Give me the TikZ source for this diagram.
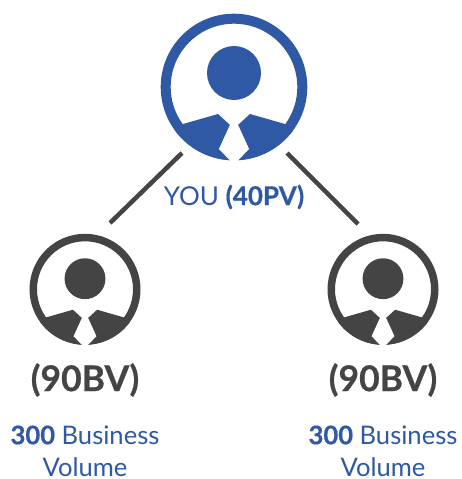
\documentclass[tikz,border=0pt]{standalone}
\usepackage{fontspec}
\setmainfont{Lato}[BoldFeatures={FakeBold=0.6}]
\definecolor{brandblue}{HTML}{2F58A5}
\definecolor{darkgrey}{HTML}{444444}
\tikzset{
  ring/.style={circle,draw=#1,fill=white,inner sep=0pt,outer sep=0pt},
  youlabel/.style={text=brandblue,font=\fontsize{26}{30}\selectfont,inner sep=0pt},
  bvlabel/.style={text=darkgrey,font=\fontsize{35.5}{42}\selectfont\bfseries,inner sep=0pt},
  blabel/.style={text=brandblue,font=\fontsize{25.6}{32}\selectfont,align=center,inner sep=0pt},
  link/.style={draw=darkgrey,line width=4.5pt},
  person/.pic={
    \fill[pic actions] (0,-14) circle (27);
    \fill[pic actions] (-52.0,37.3) -- (-16,27) -- (-4,38) -- (-15,62) -- (-4,73.2)
       arc[start angle=93.1,end angle=144.4,radius=73.3] -- cycle;
    \fill[pic actions] (52.0,37.3) -- (16,27) -- (4,38) -- (15,62) -- (4,73.2)
       arc[start angle=86.9,end angle=35.6,radius=73.3] -- cycle;
    \fill[white] (-4,38) -- (-15,62) -- (-3,74.5) -- (3,74.5) -- (15,62) -- (4,38) -- cycle;
  }
}
\begin{document}
\begin{tikzpicture}[x=1pt,y=-1pt]
\useasboundingbox (0,0) rectangle (461,479);
\node[ring=brandblue,line width=10pt,minimum size=136.6pt] (you) at (234,87) {};
\pic[fill=brandblue] at (you.center) {person};
\node[ring=darkgrey,line width=7.5pt,minimum size=103.5pt] (left) at (85,289.3) {};
\pic[fill=darkgrey,scale=.757] at (left.center) {person};
\node[ring=darkgrey,line width=7.5pt,minimum size=103.5pt] (right) at (383,289.3) {};
\pic[fill=darkgrey,scale=.757] at (right.center) {person};
\coordinate (ya) at (182,153);
\coordinate (la) at (110,223);
\coordinate (yb) at (287,153);
\coordinate (ra) at (358,224);
\draw[link] (ya) -- (la);
\draw[link] (yb) -- (ra);
\node[youlabel] (youtext) at (234,197) {YOU \textbf{(40PV)}};
\node[bvlabel] (lbv) at (85,380) {(90BV)};
\node[bvlabel] (rbv) at (383,380) {(90BV)};
\node[blabel] (lb) at (85,451) {\textbf{300} Business\\Volume};
\node[blabel] (rb) at (383,451) {\textbf{300} Business\\Volume};
\end{tikzpicture}
\end{document}
